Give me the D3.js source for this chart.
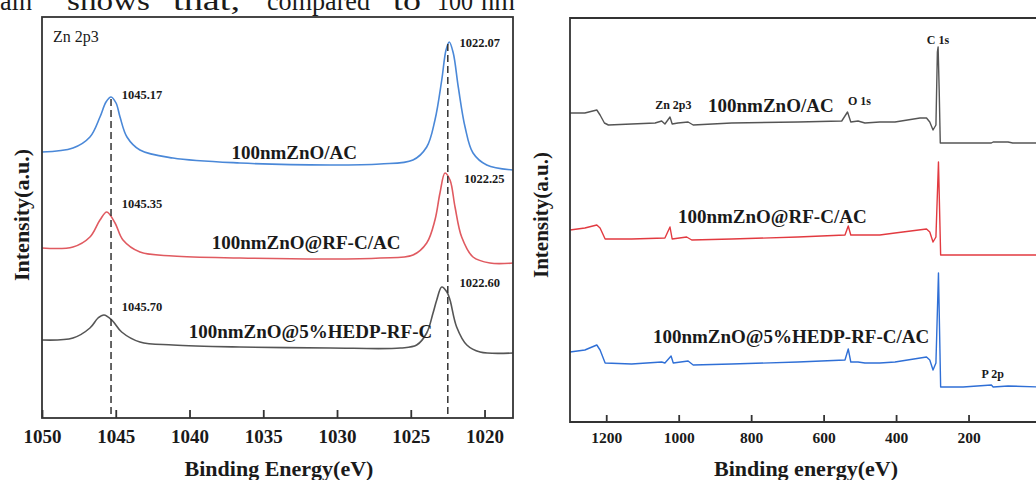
<!DOCTYPE html>
<html>
<head>
<meta charset="utf-8">
<script src="https://cdn.jsdelivr.net/npm/d3@7"></script>
<style>
body { margin: 0; background: #fff; }
svg { display: block; }
text { font-family: "Liberation Serif", "Times New Roman", serif; fill: #1a1a1a; }
</style>
</head>
<body>
<div id="chart"></div>
<script>
const W = 1036, H = 480;

// Zn 2p3 fine scan, [binding energy (eV), intensity (a.u.)]
const znAC = [[1050,266],[1047.9,270],[1046.75,281],[1046.07,301],[1045.66,316],[1045.32,321],[1044.98,315],[1044.71,301],[1044.24,281],[1043.36,268],[1041.12,260],[1036.58,255],[1030.47,253],[1027.08,254],[1024.85,258],[1023.92,271],[1023.36,298],[1022.9,338],[1022.61,368],[1022.39,376],[1022.12,365],[1021.78,331],[1021.32,291],[1020.78,265],[1019.85,253],[1018.07,248]];
const znRF = [[1050,170],[1047.9,171],[1046.75,181],[1046.07,198],[1045.61,206],[1045.05,195],[1044.51,178],[1043.36,166],[1041.12,162],[1036.58,160],[1030.47,159],[1027.08,160],[1024.85,163],[1023.92,175],[1023.36,198],[1023.02,225],[1022.68,245],[1022.34,238],[1022.0,211],[1021.55,181],[1020.78,161],[1019.63,155],[1018.07,155]];
const znHEDP = [[1050,78],[1047.9,80],[1046.75,90],[1046.2,100],[1045.8,103],[1045.27,98],[1044.6,86],[1043.36,76],[1041.12,73],[1036.58,71],[1030.47,70],[1025.7,70],[1024.6,73],[1023.92,85],[1023.49,105],[1023.24,118],[1022.9,131],[1022.55,126],[1022.34,118],[1021.89,91],[1021.2,73],[1020.3,66],[1018.07,65]];
const peakLines = [[1045.32,321],[1022.49,376]];
const peakLabels = [
  ["1045.17",1044.6,319],["1045.35",1044.6,210],["1045.70",1044.6,107],
  ["1022.07",1021.7,371],["1022.25",1021.4,235],["1022.60",1021.7,131]
];
const fineNames = ["100nmZnO/AC","100nmZnO@RF-C/AC","100nmZnO@5%HEDP-RF-C"];
const fineNamePos = [[1032.9,259],[1032.1,169],[1031.8,80]];
const fineTicks = [1050,1045,1040,1035,1030,1025,1020];

// survey scan, [binding energy (eV), intensity (a.u.)]
const svAC = [[1300,309],[1259,309],[1226,312],[1217,307],[1205,299],[1194,297],[1130,298],[1065,299],[1047,301],[1038,298],[1024,305],[1018,298],[1002,299],[974,300],[960,297],[854,299],[671,300],[550,301],[534,310],[525,300],[505,301],[486,299],[445,300],[403,300],[334,304],[316,304],[307,300],[298,292],[290,297],[286,370],[284,375],[281,332],[278,279],[215,279],[137,279],[132,280],[91,280],[78,279],[0,279]];
const svRF = [[1300,192],[1259,194],[1226,197],[1217,194],[1203,183],[1130,183],[1038,184],[1024,195],[1018,183],[978,185],[964,182],[854,183],[671,185],[541,187],[532,196],[525,187],[445,187],[403,189],[316,193],[307,190],[298,180],[290,185],[283,260],[277,167],[0,167]];
const svHEDP = [[1300,70],[1259,72],[1226,77],[1217,72],[1203,59],[1130,58],[1047,60],[1038,59],[1021,66],[1015,59],[974,61],[960,57],[854,58],[671,60],[541,62],[532,73],[525,60],[505,60],[486,59],[445,59],[403,60],[316,65],[307,62],[298,52],[290,59],[283,149],[277,35],[215,35],[137,37],[132,35],[91,36],[0,35]];
const surveyNames = ["100nmZnO/AC","100nmZnO@RF-C/AC","100nmZnO@5%HEDP-RF-C/AC"];
const surveyNamePos = [[919,310],[1002,199],[1071,79]];
const surveyPeaks = [["C 1s",315,378],["Zn 2p3",1065,313],["O 1s",533,317],["P 2p",164,44]];
const surveyTicks = [1200,1000,800,600,400,200,0];

const svg = d3.select("#chart").append("svg").attr("width", W).attr("height", H);

// bit of page text above the figure
const words = [["ain",0,32],["shows",67,83],["that,",173,67],["compared",267,103],["to",393,28],["100",437,36],["nm",481,34]];
svg.selectAll(".para").data(words).enter().append("text")
  .attr("x", d => d[1]).attr("y", 10)
  .attr("textLength", d => d[2]).attr("lengthAdjust", "spacingAndGlyphs")
  .style("font-size", "27px").text(d => d[0]);

/* ---------- left panel: Zn 2p3 ---------- */
const L = {left: 42, right: 513, top: 17, bottom: 418};
const x1 = d3.scaleLinear().domain([1050, 1018.07]).range([L.left, L.right]);
const y1 = d3.scaleLinear().domain([0, 401]).range([L.bottom, L.top]);
const fineColors = ["#4a88d8", "#e05a60", "#555555"];

const line1 = d3.line().x(d => x1(d[0])).y(d => y1(d[1])).curve(d3.curveCatmullRom.alpha(0.5));
const g1 = svg.append("g");
[znAC, znRF, znHEDP].forEach((s, i) => {
  g1.append("path").datum(s).attr("d", line1)
    .attr("fill", "none").attr("stroke", fineColors[i]).attr("stroke-width", 1.6);
});

g1.selectAll(".pk").data(peakLines).enter().append("line")
  .attr("x1", d => x1(d[0])).attr("x2", d => x1(d[0]))
  .attr("y1", d => y1(d[1]) + 2).attr("y2", L.bottom)
  .attr("stroke", "#333").attr("stroke-width", 1.5).attr("stroke-dasharray", "7,4");

g1.selectAll(".pl").data(peakLabels).enter().append("text")
  .attr("x", d => x1(d[1])).attr("y", d => y1(d[2]))
  .style("font-size", "12.5px").style("font-weight", "bold").text(d => d[0]);

g1.selectAll(".nm").data(fineNames).enter().append("text")
  .attr("x", (d, i) => x1(fineNamePos[i][0])).attr("y", (d, i) => y1(fineNamePos[i][1]))
  .attr("text-anchor", "middle")
  .style("font-size", "19px").style("font-weight", "bold").text(d => d);

g1.append("text").attr("x", 53).attr("y", 42).style("font-size", "16px").text("Zn 2p3");

g1.append("rect").attr("x", L.left).attr("y", L.top)
  .attr("width", L.right - L.left).attr("height", L.bottom - L.top)
  .attr("fill", "none").attr("stroke", "#333").attr("stroke-width", 1.8);

const ax1 = g1.append("g").attr("transform", `translate(0,${L.bottom})`)
  .call(d3.axisBottom(x1).tickValues(fineTicks).tickSizeInner(-8).tickSizeOuter(0).tickPadding(12).tickFormat(d3.format("d")));
ax1.select(".domain").remove();
ax1.selectAll("line").attr("stroke", "#333").attr("stroke-width", 1.8);
ax1.selectAll("text").style("font-size", "19px").style("font-weight", "bold")
  .style("font-family", "'Liberation Serif', serif").attr("fill", "#1a1a1a");

g1.append("text").attr("x", 279).attr("y", 476).attr("text-anchor", "middle")
  .style("font-size", "22px").style("font-weight", "bold").text("Binding Energy(eV)");
g1.append("text").attr("transform", "translate(29,215) rotate(-90)").attr("text-anchor", "middle")
  .style("font-size", "22px").style("font-weight", "bold").text("Intensity(a.u.)");

/* ---------- right panel: survey ---------- */
const R = {left: 570, right: 1041, top: 18, bottom: 422};
const x2 = d3.scaleLinear().domain([1300, 0]).range([R.left, R.right]);
const y2 = d3.scaleLinear().domain([0, 404]).range([R.bottom, R.top]);
const surveyColors = ["#555555", "#e23a40", "#2f6fd6"];

const line2 = d3.line().x(d => x2(d[0])).y(d => y2(d[1]));
const g2 = svg.append("g");
[svAC, svRF, svHEDP].forEach((s, i) => {
  g2.append("path").datum(s).attr("d", line2)
    .attr("fill", "none").attr("stroke", surveyColors[i]).attr("stroke-width", 1.4)
    .attr("stroke-linejoin", "round");
});

g2.selectAll(".nm").data(surveyNames).enter().append("text")
  .attr("x", (d, i) => x2(surveyNamePos[i][0])).attr("y", (d, i) => y2(surveyNamePos[i][1]))
  .style("font-size", "19px").style("font-weight", "bold").text(d => d);

g2.selectAll(".sp").data(surveyPeaks).enter().append("text")
  .attr("x", d => x2(d[1])).attr("y", d => y2(d[2]))
  .style("font-size", "12px").style("font-weight", "bold").text(d => d[0]);

g2.append("path")
  .attr("d", `M${R.right},${R.top}H${R.left}V${R.bottom}H${R.right}`)
  .attr("fill", "none").attr("stroke", "#333").attr("stroke-width", 1.8);

const ax2 = g2.append("g").attr("transform", `translate(0,${R.bottom})`)
  .call(d3.axisBottom(x2).tickValues(surveyTicks).tickSizeInner(-7).tickSizeOuter(0).tickPadding(10).tickFormat(d3.format("d")));
ax2.select(".domain").remove();
ax2.selectAll("line").attr("stroke", "#333").attr("stroke-width", 1.8);
ax2.selectAll("text").style("font-size", "15.5px").style("font-weight", "bold")
  .style("font-family", "'Liberation Serif', serif").attr("fill", "#1a1a1a");

g2.append("text").attr("x", 806).attr("y", 476).attr("text-anchor", "middle")
  .style("font-size", "22px").style("font-weight", "bold").text("Binding energy(eV)");
g2.append("text").attr("transform", "translate(548,215) rotate(-90)").attr("text-anchor", "middle")
  .style("font-size", "21px").style("font-weight", "bold").text("Intensity(a.u.)");
</script>
</body>
</html>
